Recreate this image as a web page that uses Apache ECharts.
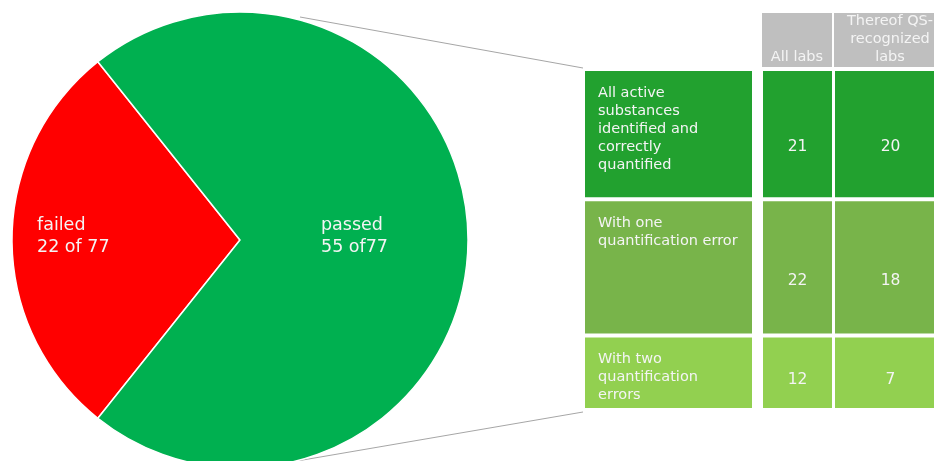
<!DOCTYPE html>
<html>
<head>
<meta charset="utf-8">
<script src="https://cdn.jsdelivr.net/npm/echarts@6/dist/echarts.min.js"></script>
<style>
html,body{margin:0;padding:0;background:#fff;}
#chart{width:934px;height:461px;}
</style>
</head>
<body>
<div id="chart"></div>
<script>
// ---- data ----
var pieNames = ['failed', 'passed'];
var pieValues = [22, 55];
var pieValueText = ['22 of 77', '55 of77'];
var rowLabels = ['All active\nsubstances\nidentified and\ncorrectly\nquantified', 'With one\nquantification error', 'With two\nquantification\nerrors'];
var allLabs = [21, 22, 12];
var qsLabs = [20, 18, 7];
var headers = ['All labs', 'Thereof QS-\nrecognized\nlabs'];

// ---- styles / layout ----
var pieColors = ['#ff0000', '#00b050'];
var rowColors = ['#22a12f', '#78b44a', '#92d050'];
var FONT = 'DejaVu Sans';
var TXT = '#f4f4f4';
var cx = 240, cy = 240, R = 228;
var total = pieValues.reduce(function (a, b) { return a + b; }, 0);
var passedSum = allLabs.reduce(function (a, b) { return a + b; }, 0);
var startAngle = 180 + 360 * pieValues[0] / total / 2;

var grids = [
  { left: 583, top: 69, width: 171, height: 341, outerBoundsMode: 'none', containLabel: false },
  { left: 761, top: 69, width: 73, height: 341, outerBoundsMode: 'none', containLabel: false },
  { left: 833, top: 69, width: 115, height: 341, outerBoundsMode: 'none', containLabel: false }
];

var series = [{
  type: 'pie',
  center: [cx, cy],
  radius: R,
  startAngle: startAngle,
  clockwise: true,
  silent: true,
  itemStyle: { borderColor: '#ffffff', borderWidth: 1.5 },
  label: {
    show: true,
    position: 'inside',
    color: TXT,
    fontFamily: FONT,
    fontSize: 17.5,
    lineHeight: 22,
    formatter: function (p) { return p.name + '\n' + pieValueText[p.dataIndex]; }
  },
  labelLine: { show: false },
  labelLayout: function (p) {
    return { x: p.dataIndex === 0 ? cx - 203 : cx + 81, y: cy - 4, align: 'left', verticalAlign: 'middle' };
  },
  data: pieNames.map(function (n, i) {
    return { name: n, value: pieValues[i], itemStyle: { color: pieColors[i] } };
  })
}];

allLabs.forEach(function (v, i) {
  series.push({
    type: 'bar', xAxisIndex: 0, yAxisIndex: 0, stack: 'breakdown',
    barWidth: '100%', silent: true,
    itemStyle: { color: rowColors[i], borderColor: '#fff', borderWidth: 2 },
    label: {
      show: true, position: [15, 15], align: 'left', verticalAlign: 'top',
      color: TXT, fontFamily: FONT, fontSize: 14.5, lineHeight: 18,
      formatter: function () { return rowLabels[i]; }
    },
    data: [v]
  });
});
allLabs.forEach(function (v, i) {
  series.push({
    type: 'bar', xAxisIndex: 1, yAxisIndex: 1, stack: 'all',
    barWidth: '100%', silent: true,
    itemStyle: { color: rowColors[i], borderColor: '#fff', borderWidth: 2 },
    label: {
      show: true, position: ['50%', '60%'], align: 'center', verticalAlign: 'middle',
      color: TXT, fontFamily: FONT, fontSize: 15.5,
      formatter: function () { return String(allLabs[i]); }
    },
    data: [v]
  });
});
allLabs.forEach(function (v, i) {
  series.push({
    type: 'bar', xAxisIndex: 2, yAxisIndex: 2, stack: 'qs',
    barWidth: '100%', silent: true,
    itemStyle: { color: rowColors[i], borderColor: '#fff', borderWidth: 2 },
    label: {
      show: true, position: ['50%', '60%'], align: 'center', verticalAlign: 'middle',
      color: TXT, fontFamily: FONT, fontSize: 15.5,
      formatter: function () { return String(qsLabs[i]); }
    },
    data: [v]
  });
});

function hdr(x, w, text) {
  return {
    type: 'group', silent: true,
    children: [
      { type: 'rect', shape: { x: x, y: 13, width: w, height: 54 }, style: { fill: '#bfbfbf' } },
      { type: 'text', x: x + w / 2, y: 66, style: { text: text, fill: TXT, font: '14.5px ' + FONT, lineHeight: 18, align: 'center', verticalAlign: 'bottom' } }
    ]
  };
}

var chart = echarts.init(document.getElementById('chart'), null, { renderer: 'canvas' });
chart.setOption({
  animation: false,
  backgroundColor: '#ffffff',
  grid: grids,
  xAxis: grids.map(function (g, i) {
    return { type: 'category', gridIndex: i, data: ['x'], show: false };
  }),
  yAxis: grids.map(function (g, i) {
    return { type: 'value', gridIndex: i, min: 0, max: passedSum, inverse: true, show: false };
  }),
  series: series,
  graphic: [
    { type: 'line', silent: true, shape: { x1: 300, y1: 17, x2: grids[0].left, y2: grids[0].top - 1 }, style: { stroke: '#a6a6a6', lineWidth: 1 } },
    { type: 'line', silent: true, shape: { x1: 297, y1: 461, x2: grids[0].left, y2: grids[0].top + grids[0].height + 2 }, style: { stroke: '#a6a6a6', lineWidth: 1 } },
    hdr(762, 70, headers[0]),
    hdr(834, 112, headers[1])
  ]
});
</script>
</body>
</html>
